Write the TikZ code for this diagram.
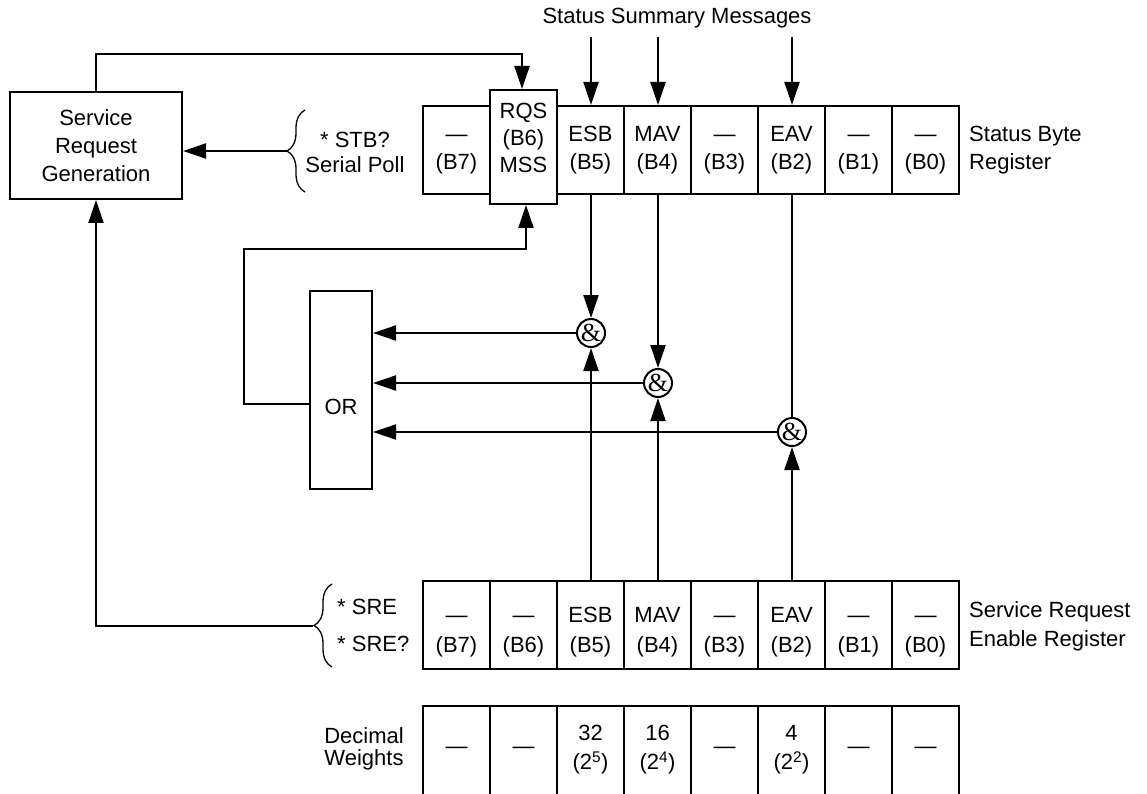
\documentclass[tikz,border=0pt]{standalone}
\usepackage{fontspec}
\setmainfont{Liberation Sans}
\newfontfamily\ampfont{Liberation Serif}
\usetikzlibrary{arrows.meta,decorations.pathreplacing,calc}
\newcommand\dsh{\vphantom{E}—}
\newcommand\srtop{\rule{0pt}{30pt}}
\begin{document}
\begin{tikzpicture}[x=1pt,y=-1pt,
  every node/.style={font=\fontsize{22}{28}\selectfont, inner sep=0pt},
  ln/.style={line width=2pt},
  arr/.style={ln,-{Triangle[length=23pt,width=15pt]}},
  regcell/.style={draw,ln,rectangle,minimum width=67pt,minimum height=88pt,align=center},
  srecell/.style={regcell,font=\fontsize{22}{30}\selectfont},
  deccell/.style={rectangle,minimum width=67pt,minimum height=88pt,align=center,font=\fontsize{22}{29}\selectfont},
  andgate/.style={draw,ln,circle,minimum size=28pt,font=\ampfont\fontsize{26}{26}\selectfont},
  brc/.style={decorate,decoration={brace,amplitude=18pt},line width=1.3pt},
  lbl/.style={align=center}
]
\useasboundingbox (0,0) rectangle (1147,794);

% Service request generation
\node[draw,ln,minimum width=172pt,minimum height=107pt,align=center] (srg) at (96,145.5) {Service\\Request\\Generation};

% Status byte register
\node[lbl] (ssm) at (677,18) {Status Summary Messages};
\node[regcell] (s7) at (456.5,150) {\dsh\\(B7)};
\node[draw,ln,minimum width=67pt,minimum height=114pt] (rqs) at (523.5,147) {};
\node[align=center,font=\fontsize{22}{27}\selectfont] (rqst) at (523.5,137.5) {RQS\\(B6)\\MSS};
\node[regcell] (s5) at (590.5,150) {ESB\\(B5)};
\node[regcell] (s4) at (657.5,150) {MAV\\(B4)};
\node[regcell] (s3) at (724.5,150) {\dsh\\(B3)};
\node[regcell] (s2) at (791.5,150) {EAV\\(B2)};
\node[regcell] (s1) at (858.5,150) {\dsh\\(B1)};
\node[regcell] (s0) at (925.5,150) {\dsh\\(B0)};
\node[anchor=west,align=left] (sbr) at (969,150.5) {Status Byte\\Register};

% STB brace
\draw[brc] (305,192) -- (305,110);
\coordinate (stbtip) at (287,151);
\node[align=center,font=\fontsize{22}{25}\selectfont] (stb) at (355,152.5) {* STB?\\Serial Poll};

% Service request enable register
\node[srecell] (e7) at (456.5,625) {\srtop\dsh\\(B7)};
\node[srecell] (e6) at (523.5,625) {\srtop\dsh\\(B6)};
\node[srecell] (e5) at (590.5,625) {\srtop ESB\\(B5)};
\node[srecell] (e4) at (657.5,625) {\srtop MAV\\(B4)};
\node[srecell] (e3) at (724.5,625) {\srtop\dsh\\(B3)};
\node[srecell] (e2) at (791.5,625) {\srtop EAV\\(B2)};
\node[srecell] (e1) at (858.5,625) {\srtop\dsh\\(B1)};
\node[srecell] (e0) at (925.5,625) {\srtop\dsh\\(B0)};
\node[anchor=west,align=left,font=\fontsize{22}{29}\selectfont] (srer) at (969,626) {Service Request\\Enable Register};

% SRE brace
\draw[brc] (332,667) -- (332,584);
\coordinate (sretip) at (313,626);
\node[anchor=west,align=left,font=\fontsize{22}{37}\selectfont] (sre) at (337,625) {* SRE\\* SRE?};

% Decimal weights
\node[align=center,font=\fontsize{22}{22.6}\selectfont] (dw) at (364,749) {Decimal\\Weights};
\node[deccell] (d7) at (456.5,750) {—};
\node[deccell] (d6) at (523.5,750) {—};
\node[deccell] (d5) at (590.5,750) {32\\(2\textsuperscript{5})};
\node[deccell] (d4) at (657.5,750) {16\\(2\textsuperscript{4})};
\node[deccell] (d3) at (724.5,750) {—};
\node[deccell] (d2) at (791.5,750) {4\\(2\textsuperscript{2})};
\node[deccell] (d1) at (858.5,750) {—};
\node[deccell] (d0) at (925.5,750) {—};
\draw[ln] (d7.south west) -- (d7.north west) -- (d0.north east) -- (d0.south east);
\foreach \c in {d7,d6,d5,d4,d3,d2,d1} \draw[ln] (\c.north east) -- (\c.south east);

% OR gate and AND gates
\node[draw,ln,minimum width=62pt,minimum height=198pt] (or) at (341,390) {};
\node (ort) at (341,407) {OR};
\node[andgate] (and5) at (591,333) {\&};
\node[andgate] (and4) at (658,383) {\&};
\node[andgate] (and2) at (792,432) {\&};

% Connectors
\coordinate (topc) at (522,54);
\draw[arr] (srg.north) |- (topc) -- (topc |- rqs.north);
\draw[arr] (stbtip) -- (stbtip -| srg.east);
\draw[arr] (sretip) -| (srg.south);

\coordinate (msg) at (0,37);
\foreach \g in {and5,and4,and2} \draw[arr] (\g |- msg) -- (\g |- s5.north);

\draw[arr] (and5 |- s5.south) -- (and5.north);
\draw[arr] (and4 |- s4.south) -- (and4.north);
\draw[ln] (and2 |- s2.south) -- (and2.north);
\draw[arr] (and5 |- e5.north) -- (and5.south);
\draw[arr] (and4 |- e4.north) -- (and4.south);
\draw[arr] (and2 |- e2.north) -- (and2.south);

\foreach \g in {and5,and4,and2} \draw[arr] (\g.west) -- (\g.west -| or.east);

\coordinate (fbl) at (244,249);
\coordinate (fbr) at (526,249);
\draw[arr] ($(or.west)+(0,14)$) -| (fbl) -- (fbr) -- (fbr |- rqs.south);
\end{tikzpicture}
\end{document}
